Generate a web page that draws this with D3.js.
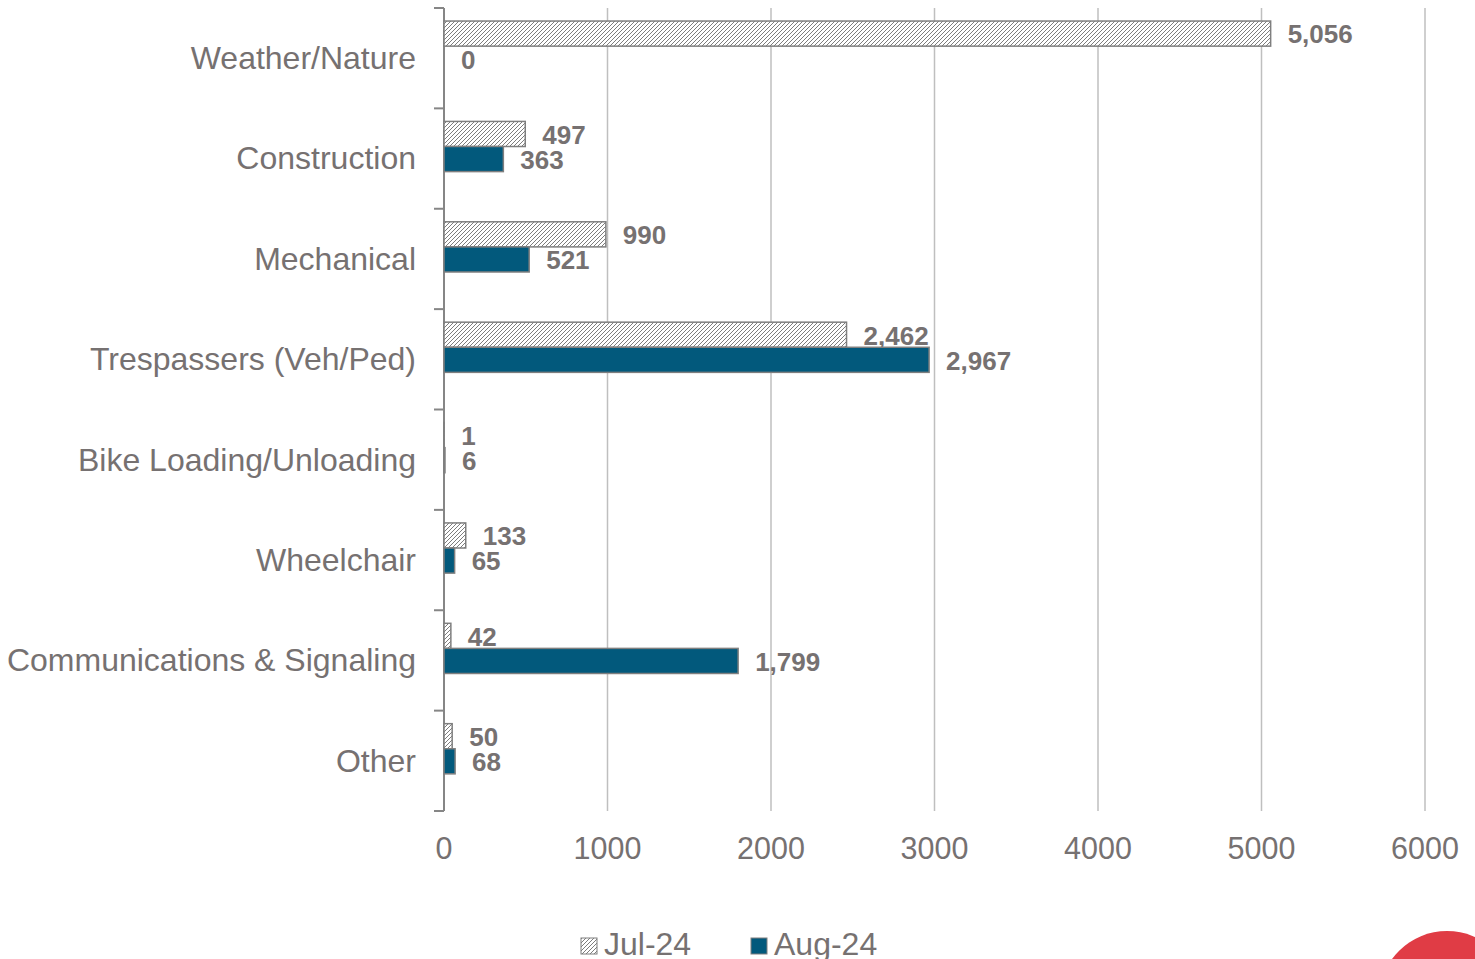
<!DOCTYPE html>
<html>
<head>
<meta charset="utf-8">
<script src="https://cdn.jsdelivr.net/npm/d3@7"></script>
<style>
  html, body { margin: 0; padding: 0; background: #ffffff; }
  svg { display: block; }
  text { font-family: "Liberation Sans", Arial, sans-serif; }
</style>
</head>
<body>
<svg id="chart" width="1475" height="959"></svg>
<script>
// Delay categories, top to bottom
const categories = [
  "Weather/Nature",
  "Construction",
  "Mechanical",
  "Trespassers (Veh/Ped)",
  "Bike Loading/Unloading",
  "Wheelchair",
  "Communications & Signaling",
  "Other"
];
const seriesNames = ["Jul-24", "Aug-24"];
const jul24 = [5056, 497, 990, 2462, 1, 133, 42, 50];
const aug24 = [0, 363, 521, 2967, 6, 65, 1799, 68];
const xTicks = [0, 1000, 2000, 3000, 4000, 5000, 6000];

const textColor = "#767171";
const gridColor = "#bfbfbf";
const axisColor = "#868686";
const augColor = "#02597c";
const barStroke = "#7f7f7f";

const svg = d3.select("#chart");

// Diagonal hatch used for the July series
const defs = svg.append("defs");
const pat = defs.append("pattern")
  .attr("id", "hatch")
  .attr("patternUnits", "userSpaceOnUse")
  .attr("width", 4).attr("height", 4);
pat.append("rect").attr("width", 4).attr("height", 4).attr("fill", "#ffffff");
pat.append("path")
  .attr("d", "M-1,1 L1,-1 M0,4 L4,0 M3,5 L5,3")
  .attr("stroke", "#6e6e6e").attr("stroke-width", 0.9);

const x = d3.scaleLinear().domain([0, 6000]).range([444, 1425]);
const y = d3.scaleBand().domain(categories).range([8, 811]);
const bw = y.bandwidth();
const barH = bw * 0.25;
const barTop = bw * 0.13;

// Vertical gridlines
svg.append("g").selectAll("line")
  .data(xTicks.filter(t => t > 0))
  .join("line")
  .attr("x1", d => x(d)).attr("x2", d => x(d))
  .attr("y1", 8).attr("y2", 811)
  .attr("stroke", gridColor).attr("stroke-width", 1.5);

// X axis tick labels
svg.append("g").selectAll("text")
  .data(xTicks)
  .join("text")
  .attr("x", d => x(d))
  .attr("y", 859)
  .attr("text-anchor", "middle")
  .attr("font-size", 30.5)
  .attr("fill", textColor)
  .text(d => d);

// Category axis line and tick marks at band boundaries
const boundaries = categories.map(c => y(c)).concat([y.range()[1]]);
svg.append("line")
  .attr("x1", x(0)).attr("x2", x(0))
  .attr("y1", 8).attr("y2", 811)
  .attr("stroke", axisColor).attr("stroke-width", 2);
svg.append("g").selectAll("line")
  .data(boundaries)
  .join("line")
  .attr("x1", x(0) - 10).attr("x2", x(0))
  .attr("y1", d => d).attr("y2", d => d)
  .attr("stroke", axisColor).attr("stroke-width", 2);

// Category labels
svg.append("g").selectAll("text")
  .data(categories)
  .join("text")
  .attr("x", 416)
  .attr("y", d => y(d) + bw / 2)
  .attr("dy", "0.34em")
  .attr("text-anchor", "end")
  .attr("font-size", 32)
  .attr("fill", textColor)
  .text(d => d);

const fmt = d3.format(",");
const series = [
  { name: seriesNames[0], values: jul24, fill: "url(#hatch)", offset: 0 },
  { name: seriesNames[1], values: aug24, fill: augColor, offset: 1 }
];

series.forEach(s => {
  const g = svg.append("g");
  const rows = categories.map((c, i) => ({ c, v: s.values[i] }));
  g.selectAll("rect")
    .data(rows.filter(d => d.v > 0))
    .join("rect")
    .attr("x", x(0))
    .attr("y", d => y(d.c) + barTop + s.offset * barH)
    .attr("width", d => x(d.v) - x(0))
    .attr("height", barH)
    .attr("fill", s.fill)
    .attr("stroke", barStroke)
    .attr("stroke-width", 1.5);
  g.selectAll("text")
    .data(rows)
    .join("text")
    .attr("x", d => x(d.v) + 17)
    .attr("y", d => y(d.c) + barTop + s.offset * barH + barH / 2)
    .attr("dy", "0.38em")
    .attr("font-size", 26)
    .attr("font-weight", "bold")
    .attr("fill", textColor)
    .text(d => fmt(d.v));
});

// Legend
const legend = svg.append("g");
const legendItems = [
  { name: seriesNames[0], fill: "url(#hatch)", x: 581 },
  { name: seriesNames[1], fill: augColor, x: 751 }
];
legendItems.forEach(it => {
  legend.append("rect")
    .attr("x", it.x).attr("y", 938)
    .attr("width", 16).attr("height", 16)
    .attr("fill", it.fill)
    .attr("stroke", barStroke).attr("stroke-width", 1);
  legend.append("text")
    .attr("x", it.x + 23).attr("y", 955)
    .attr("font-size", 32)
    .attr("fill", textColor)
    .text(it.name);
});

// Decorative red disc in the lower right corner
svg.append("circle")
  .attr("cx", 1447).attr("cy", 999).attr("r", 68)
  .attr("fill", "#e03c45");
</script>
</body>
</html>
